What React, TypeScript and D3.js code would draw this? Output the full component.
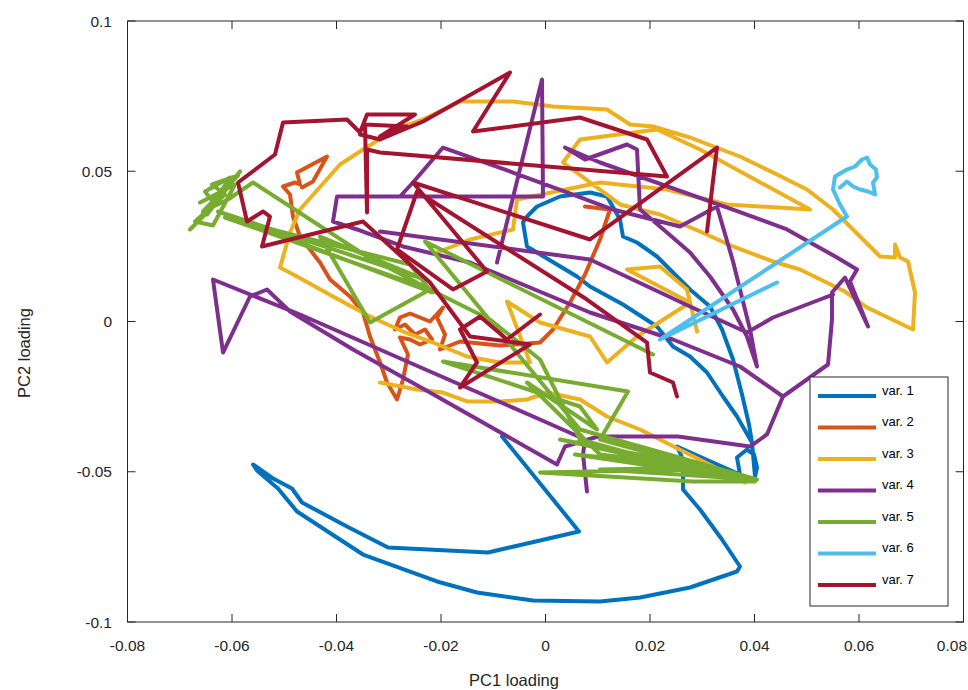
import React, { useEffect, useRef } from "react";
import * as d3 from "d3";

const xTicks = [-0.08, -0.06, -0.04, -0.02, 0, 0.02, 0.04, 0.06, 0.08];
const yTicks = [-0.1, -0.05, 0, 0.05, 0.1];
const seriesNames = ["var. 1", "var. 2", "var. 3", "var. 4", "var. 5", "var. 6", "var. 7"];
const colors = ["#0072BD", "#D95319", "#EDB120", "#7E2F8E", "#77AC30", "#4DBEEE", "#A2142F"];

// loadings, [PC1, PC2]; null = break in the trace
const var1 = [
  [-0.00833, -0.03827], [0.00641, -0.06988], [-0.011, -0.07687], [-0.03014, -0.07521],
  [-0.03799, -0.06822], [-0.0466, -0.06023], [-0.04852, -0.05557], [-0.05215, -0.05225],
  [-0.05598, -0.04759], [-0.05522, -0.04958], [-0.0512, -0.05557], [-0.04756, -0.06323],
  [-0.03493, -0.07754], [-0.02077, -0.08652], [-0.01311, -0.09018], [-0.00239, -0.09285],
  [0.01043, -0.09318], [0.01809, -0.09185], [0.02766, -0.08852], [0.03665, -0.08319],
  [0.03722, -0.08153], [0.03378, -0.07255], [0.02957, -0.06256], [0.02632, -0.05591],
  [0.02632, -0.04592], [0.02517, -0.0416], [0.03722, -0.05092], [0.03665, -0.04526],
  [0.03856, -0.0426], [0.0399, -0.04426], [0.04048, -0.04859], [0.0401, -0.05158],
  [0.03952, -0.04027], [0.03665, -0.03161], [0.03397, -0.02496], [0.03091, -0.01697],
  [0.02766, -0.01165], [0.0244, -0.00832], [0.02134, -0.00166], [0.01483, 0.00566],
  [0.00852, 0.01165], [0.00603, 0.01498], [-0.00163, 0.02296], [-0.00354, 0.02496],
  [-0.00431, 0.03295], [-0.00354, 0.03494], [-0.00163, 0.03827], [0.00278, 0.0416],
  [0.00852, 0.04293], [0.01177, 0.0416], [0.01426, 0.03394], [0.01483, 0.02829],
  [0.01751, 0.02629], [0.02134, 0.02163], [0.0244, 0.01631], [0.02766, 0.01065],
  [0.03148, 0.00499], [0.03378, -0.00266], [0.03589, -0.01265], [0.03761, -0.02429],
  [0.03895, -0.03428], [0.03952, -0.04027],
];

const var2 = [
  [0.00756, 0.03827], [0.01234, 0.03727], [0.01043, 0.02729], [0.00756, 0.01564],
  [0.00469, 0.00632], [0.00144, -0.00266], [-0.00105, -0.00699], [-0.00871, -0.00799],
  [-0.01636, -0.00666], [-0.02019, -0.00932], [-0.01923, -0.00433], [-0.02077, 0.00133],
  [-0.01962, 0.00466], [-0.02211, 0], [-0.02402, 0.00133], [-0.02593, 0.00266],
  [-0.02785, 0.00133], [-0.0288, -0.00266], [-0.02689, -0.001], [-0.02498, -0.00433],
  [-0.02306, -0.00266], [-0.02172, -0.00599], [-0.02402, -0.00765], [-0.02593, -0.00599],
  [-0.02785, -0.00532], [-0.02632, -0.01098], [-0.02727, -0.0193], [-0.02842, -0.02596],
  [-0.03033, -0.0203], [-0.03167, -0.01364], [-0.03359, -0.00499], [-0.03493, 0.003],
  [-0.03742, 0.00832], [-0.04124, 0.01398], [-0.04316, 0.01963], [-0.04699, 0.02829],
  [-0.04833, 0.03494], [-0.0489, 0.04226], [-0.05024, 0.04493], [-0.04794, 0.04626],
  [-0.04699, 0.04559], [-0.04756, 0.04958], [-0.04182, 0.05491], [-0.0445, 0.04659],
  [-0.0466, 0.04459],
];

const var3 = [
  [0.029, -0.00333], [0.02708, 0.01065], [0.02191, 0.0183], [0.0156, 0.0173],
  [0.02766, 0.00632], [0.01751, -0.00499], [0.01177, -0.01364], [0.00852, -0.00499],
  [-0.00105, -0.00033], [-0.00737, 0.00666], [-0.00297, -0.01364], [-0.00871, -0.01364],
  [-0.01502, -0.01165], [-0.02153, -0.00699], [-0.02727, -0.00333], [-0.03359, 0.00166],
  [-0.04067, 0.00832], [-0.04756, 0.01498], [-0.05081, 0.01797], [-0.0489, 0.02962],
  [-0.04699, 0.03727], [-0.03933, 0.05225], [-0.0355, 0.05657], [-0.0288, 0.06389],
  [-0.02344, 0.06722], [-0.01636, 0.07321], [-0.00622, 0.07321], [0.00144, 0.07155],
  [0.01177, 0.07055], [0.01617, 0.06556], [0.02057, 0.06489], [0.02766, 0.06123],
  [0.03722, 0.05491], [0.04354, 0.04958], [0.05005, 0.04393], [0.05502, 0.03727],
  [0.05885, 0.03062], [0.06402, 0.02163], [0.06689, 0.0213], [0.06689, 0.02562],
  [0.06785, 0.0213], [0.06938, 0.01997], [0.07072, 0.00965], [0.07033, -0.00266],
  [0.06153, 0.00466], [0.05732, 0.00998], [0.04871, 0.0173], [0.04354, 0.01997],
  [0.03589, 0.02496], [0.02957, 0.02995], [0.02191, 0.03561], [0.01426, 0.03894],
  [0.00335, 0.05291], [0.0066, 0.06057], [0.02134, 0.06389], [0.02957, 0.05724],
  [0.05062, 0.03727], [0.03474, 0.03894], [0.02325, 0.04393], [0.01043, 0.04626],
  [-0.00545, 0.0406], [-0.00622, 0.03062], [-0.01445, 0.02729], [-0.02077, 0.02296],
  null,
  [-0.03167, -0.0203], [-0.02459, -0.02263], [-0.01962, -0.02363], [-0.01502, -0.02662],
  [-0.00871, -0.02662], [-0.00354, -0.02596], [0.00029, -0.02363], [0.0066, -0.02596],
  [0.01177, -0.03161], [0.01809, -0.03594], [0.03818, -0.05358],
];

const var4 = [
  [0.00794, -0.05657], [0.00718, -0.04426], [0.00756, -0.03927], [-0.00105, -0.03261],
  [-0.02211, -0.01664], [-0.04699, 0.00233], [-0.06364, 0.01398], [-0.06172, -0.01032],
  [-0.05656, 0.00832], [-0.0533, 0.01065], [-0.0489, 0.00333], [-0.03684, -0.00932],
  [-0.02211, -0.02363], [0.0022, -0.04759], [0.00373, -0.0416], [0.01005, -0.03827],
  [0.02536, -0.03827], [0.03914, -0.0416], [0.04239, -0.0376], [0.04545, -0.02496],
  [0.05407, -0.01431], [0.05483, 0.00067], [0.05483, 0.00965], [0.05732, 0.01464],
  [0.06172, -0.00166], [0.05828, 0.01331], [0.05962, 0.0173], [0.05579, 0.0213],
  [0.04622, 0.03062], [0.03589, 0.03727], [0.01043, 0.05291], [0.00373, 0.0579],
  [0.00756, 0.05391], [0.0156, 0.0589], [0.01751, 0.05724], [0.01809, 0.03727],
  [0.02325, 0.02962], [0.02766, 0.02296], [0.03148, 0.01498], [0.03589, 0.00399],
  [0.03856, -0.00499], [0.04048, -0.01498], [0.03914, -0.00266], [0.03589, 0.01997],
  [0.03282, 0.03827], [0.02574, 0.03161], [0.01292, 0.03727], [0.00411, 0.04293],
  [-0.00622, 0.04958], [-0.01962, 0.0579], [-0.02536, 0.04626], [-0.02785, 0.0416],
  null,
  [-0.00928, 0.01963], [-0.00067, 0.08053], [-0.00048, 0.0416], [-0.0399, 0.0416],
  [-0.04067, 0.03328], [-0.03608, 0.03062], [-0.02727, 0.02496], [-0.01445, 0.01963],
  [0.00852, 0.003], [0.0244, -0.00599], [0.03722, -0.01498], [0.04545, -0.02496],
  null,
  [-0.03167, 0.02995], [0.00852, 0.02063], [0.02766, 0.00499], [0.03856, -0.00366],
  [0.04354, 0.00133], [0.05254, 0.00732], [0.05502, 0.00898],
];

const var5 = [
  [-0.06804, 0.03062], [-0.06325, 0.03894], [-0.06517, 0.04326], [-0.06038, 0.04792],
  [-0.06421, 0.03794], [-0.05847, 0.04992], [-0.06478, 0.03561], [-0.06191, 0.04326],
  [-0.06612, 0.0396], [-0.05943, 0.04559], [-0.06364, 0.03195], [-0.06708, 0.03328],
  [-0.06134, 0.04226], [-0.06383, 0.04559], [-0.05885, 0.04859], [-0.06555, 0.03661],
  [-0.06077, 0.0406], [-0.05598, 0.04626],
  [-0.03416, 0.02163], [-0.02211, 0.01065], [-0.06134, 0.03461], [-0.02593, 0.01897],
  [-0.02172, 0.00965], [-0.06268, 0.03661], [-0.02306, 0.01398],
  [-0.04316, 0.02829], [-0.03359, -0.00033], [-0.02211, 0.01065],
  [-0.01062, 0.00067], [-0.00105, -0.01265], [0.0066, -0.03927], [0.02766, -0.04925],
  [-0.00105, -0.05025], [0.02823, -0.05324], [0.0401, -0.05324], [0.01043, -0.03927],
  [0.01579, -0.02329], [-0.01962, -0.01331], [0.0066, -0.02829], [0.00986, -0.03594],
  [-0.00354, -0.0203], [0.01043, -0.04426], [0.03091, -0.04859],
  [0.00278, -0.03927], [0.03531, -0.05191], [0.00565, -0.04426], [0.02957, -0.04859],
  [0.01043, -0.04925], [0.04048, -0.05258],
  [0.0066, -0.03594], [-0.02306, 0.02662], [0.02057, -0.01098],
];

const var6 = [
  [0.04431, 0.01298], [0.02191, -0.00599], [0.0577, 0.03494], [0.05636, 0.03894],
  [0.05502, 0.04393], [0.05541, 0.04825], [0.0577, 0.05058], [0.05923, 0.05158],
  [0.06057, 0.05391], [0.06153, 0.05458], [0.06211, 0.05225], [0.06325, 0.05058],
  [0.06344, 0.04792], [0.06268, 0.04626], [0.06306, 0.04226], [0.06172, 0.04326],
  [0.06019, 0.04393], [0.05885, 0.04493], [0.0577, 0.04659], [0.05636, 0.04459],
];

const var7 = [
  [0.02517, -0.02496], [0.0244, -0.0203], [0.02, -0.01697], [0.01943, -0.00699],
  [0.00794, 0.00732], [-0.02459, 0.04326], [-0.02842, 0.02396], [-0.0177, 0.01065],
  [-0.0112, 0.01664], [-0.02536, 0.04626], [0.00852, 0.02729], [0.03282, 0.0579],
  [0.03091, 0.02995],
  null,
  [-0.00105, 0.00233], [-0.00737, -0.00599], [-0.01254, 0.00166], [-0.01636, -0.00266],
  [-0.01311, -0.01364], [-0.01636, -0.02196], [-0.00297, -0.00765], [-0.01445, -0.00499],
  [-0.02211, 0.01298], [-0.03493, 0.03328], [-0.05426, 0.02496], [-0.05273, 0.03494],
  [-0.05407, 0.03661], [-0.05713, 0.03328], [-0.05885, 0.04626], [-0.05177, 0.05557],
  [-0.05024, 0.06622], [-0.03799, 0.06722], [-0.0355, 0.0629], [-0.03416, 0.06889],
  [-0.02498, 0.06889], [-0.03167, 0.06156], [-0.02651, 0.06489], [-0.03455, 0.06556],
  [-0.03416, 0.03627], [-0.03416, 0.05724], [-0.03167, 0.05624], [0.02325, 0.04825],
  [0.01943, 0.06057], [0.0066, 0.06789], [-0.01388, 0.06323], [-0.00679, 0.08286],
  [-0.02344, 0.06656], [-0.03167, 0.06057], [-0.0355, 0.06223],
];

const series = [var1, var2, var3, var4, var5, var6, var7];

const W = 968;
const H = 690;
const box = { left: 127.5, right: 963.5, top: 21, bottom: 622 };
const ink = "#262626";
const font = "'Liberation Sans', Arial, Helvetica, sans-serif";

const App = () => {
  const ref = useRef(null);

  useEffect(() => {
    const svg = d3.select(ref.current);
    svg.selectAll("*").remove();

    const x = d3.scaleLinear().domain([-0.08, 0.08]).range([box.left, box.right]);
    const y = d3.scaleLinear().domain([-0.1, 0.1]).range([box.bottom, box.top]);

    const line = d3
      .line()
      .defined(d => d !== null)
      .x(d => x(d[0]))
      .y(d => y(d[1]));

    svg
      .append("rect")
      .attr("width", W)
      .attr("height", H)
      .attr("fill", "#fff");

    const lines = svg.append("g");
    series.forEach((s, i) => {
      lines
        .append("path")
        .attr("d", line(s))
        .attr("fill", "none")
        .attr("stroke", colors[i])
        .attr("stroke-width", 4)
        .attr("stroke-linejoin", "round")
        .attr("stroke-linecap", "round");
    });

    // box + inward ticks on all four sides
    const axes = svg.append("g").attr("stroke", ink).attr("stroke-width", 1);
    axes
      .append("rect")
      .attr("x", box.left)
      .attr("y", box.top)
      .attr("width", box.right - box.left)
      .attr("height", box.bottom - box.top)
      .attr("fill", "none");
    const tl = 8;
    xTicks.forEach(t => {
      axes.append("line").attr("x1", x(t)).attr("x2", x(t)).attr("y1", box.bottom).attr("y2", box.bottom - tl);
      axes.append("line").attr("x1", x(t)).attr("x2", x(t)).attr("y1", box.top).attr("y2", box.top + tl);
    });
    yTicks.forEach(t => {
      axes.append("line").attr("y1", y(t)).attr("y2", y(t)).attr("x1", box.left).attr("x2", box.left + tl);
      axes.append("line").attr("y1", y(t)).attr("y2", y(t)).attr("x1", box.right).attr("x2", box.right - tl);
    });

    const labels = svg.append("g").attr("fill", ink).style("font-family", font);
    // the last x label would run off the page, so it is pinned to the right edge
    const atEdge = d => x(d) + 20 > W;
    labels
      .selectAll("text.xt")
      .data(xTicks)
      .enter()
      .append("text")
      .attr("class", "xt")
      .attr("x", d => (atEdge(d) ? W - 1 : x(d)))
      .attr("y", 651)
      .attr("text-anchor", d => (atEdge(d) ? "end" : "middle"))
      .style("font-size", "15.5px")
      .text(d => String(d));
    labels
      .selectAll("text.yt")
      .data(yTicks)
      .enter()
      .append("text")
      .attr("class", "yt")
      .attr("x", 112)
      .attr("y", d => y(d) + 5.5)
      .attr("text-anchor", "end")
      .style("font-size", "15.5px")
      .text(d => String(d));

    labels
      .append("text")
      .attr("x", 514)
      .attr("y", 686)
      .attr("text-anchor", "middle")
      .style("font-size", "16.5px")
      .text("PC1 loading");
    labels
      .append("text")
      .attr("transform", "translate(30,353) rotate(-90)")
      .attr("text-anchor", "middle")
      .style("font-size", "16.5px")
      .text("PC2 loading");

    // legend
    const lg = svg.append("g");
    lg.append("rect")
      .attr("x", 810)
      .attr("y", 377)
      .attr("width", 138)
      .attr("height", 229)
      .attr("fill", "#fff")
      .attr("stroke", ink)
      .attr("stroke-width", 1);
    seriesNames.forEach((name, i) => {
      const ly = 396 + i * 31.5;
      lg.append("line")
        .attr("x1", 818)
        .attr("x2", 876)
        .attr("y1", ly)
        .attr("y2", ly)
        .attr("stroke", colors[i])
        .attr("stroke-width", 4);
      lg.append("text")
        .attr("x", 882)
        .attr("y", ly - 1.5)
        .attr("fill", "#000")
        .style("font-family", font)
        .style("font-size", "13px")
        .text(name);
    });
  }, []);

  return (
    <svg
      ref={ref}
      width={W}
      height={H}
      style={{ position: "absolute", left: 0, top: 0 }}
    />
  );
};

export default App;
